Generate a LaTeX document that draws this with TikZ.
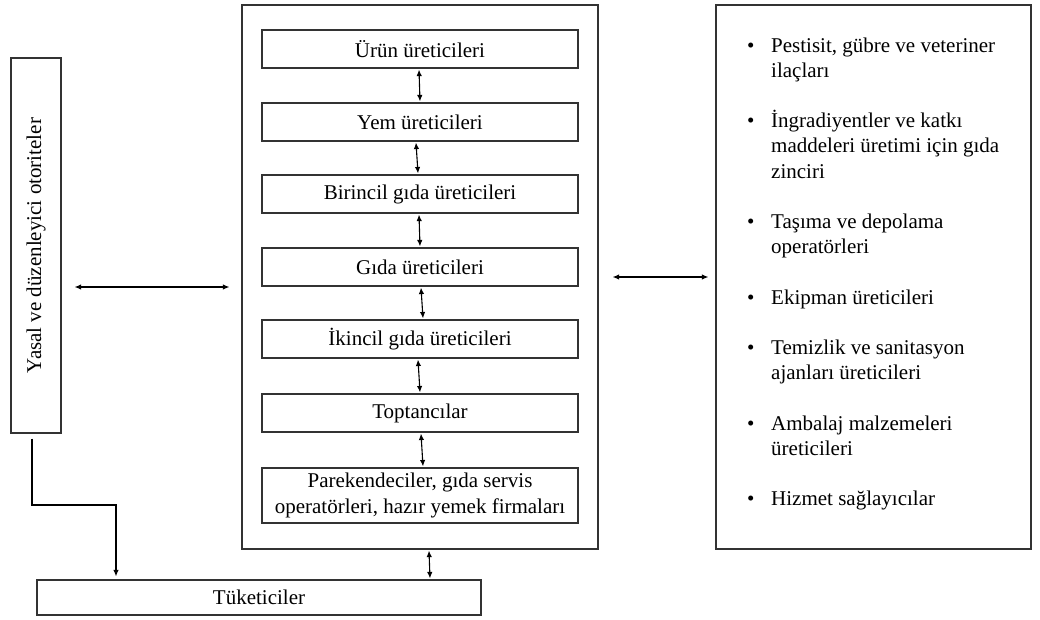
\documentclass[tikz,border=0pt]{standalone}
\usepackage{fontspec}
\setmainfont{Liberation Serif}
\usetikzlibrary{arrows.meta}

\begin{document}
\begin{tikzpicture}[x=1pt, y=-1pt,
    every node/.style={font=\fontsize{21}{25.2}\selectfont},
    kutu/.style={draw=black!80, line width=1.2pt, inner sep=0pt},
    ic/.style={kutu, minimum width=316pt, minimum height=38pt},
    ok/.style={{Latex[length=6.5pt,width=5.5pt]}-{Latex[length=6.5pt,width=5.5pt]}, line width=1.1pt},
    tek/.style={-{Latex[length=6.5pt,width=5.5pt]}, line width=1.1pt}]
  \useasboundingbox (0,0) rectangle (1040,619);

  % sol: yasal otoriteler (dikey yazi)
  \node[kutu, rotate=90, minimum width=375pt, minimum height=50pt] (sol) at (36,245.5)
    {Yasal ve düzenleyici otoriteler};

  % orta: gida zinciri
  \node[kutu, minimum width=356pt, minimum height=544pt] (zincir) at (420,277) {};
  \node[ic] (u1) at (420,49)  {Ürün üreticileri};
  \node[ic] (u2) at (420,122) {Yem üreticileri};
  \node[ic] (u3) at (420,194) {Birincil gıda üreticileri};
  \node[ic] (u4) at (420,267) {Gıda üreticileri};
  \node[ic] (u5) at (420,339) {İkincil gıda üreticileri};
  \node[ic] (u6) at (420,413) {Toptancılar};
  \node[ic, minimum height=55pt, align=center] (u7) at (420,495.5)
    {Parekendeciler, gıda servis\\operatörleri, hazır yemek firmaları};

  % zincir oklari
  \draw[ok] ([xshift=-1pt,yshift=-1pt]u1.south) -- ([xshift=0pt,yshift=1pt]u2.north);
  \draw[ok] ([xshift=-4pt,yshift=-1pt]u2.south) -- ([xshift=-2pt,yshift=1pt]u3.north);
  \draw[ok] ([xshift=-1pt,yshift=-1pt]u3.south) -- ([xshift=0pt,yshift=1pt]u4.north);
  \draw[ok] ([xshift=1pt,yshift=-1pt]u4.south) -- ([xshift=3pt,yshift=1pt]u5.north);
  \draw[ok] ([xshift=-2pt,yshift=-1pt]u5.south) -- ([xshift=0pt,yshift=1pt]u6.north);
  \draw[ok] ([xshift=1pt,yshift=-1pt]u6.south) -- ([xshift=3pt,yshift=1pt]u7.north);

  % sag: diger paydaslar
  \node[kutu, minimum width=315pt, minimum height=544pt] (tedarik) at (873.5,277) {};
  \node[anchor=base west, inner sep=0pt] (liste) at (747,52) {%
    \begin{tabular}[t]{@{}p{24pt}@{}l@{}}
      \textbullet & Pestisit, gübre ve veteriner\\
                  & ilaçları\\[25.2pt]
      \textbullet & İngradiyentler ve katkı\\
                  & maddeleri üretimi için gıda\\
                  & zinciri\\[25.2pt]
      \textbullet & Taşıma ve depolama\\
                  & operatörleri\\[25.2pt]
      \textbullet & Ekipman üreticileri\\[25.2pt]
      \textbullet & Temizlik ve sanitasyon\\
                  & ajanları üreticileri\\[25.2pt]
      \textbullet & Ambalaj malzemeleri\\
                  & üreticileri\\[25.2pt]
      \textbullet & Hizmet sağlayıcılar
    \end{tabular}};

  % alt: tuketiciler
  \node[kutu, minimum width=444pt, minimum height=35pt] (tuketici) at (259,597.5) {Tüketiciler};

  % baglanti oklari
  \coordinate (yatay) at (0,287);
  \draw[ok] ([xshift=13pt]sol.south |- yatay) -- ([xshift=-12pt]zincir.west |- yatay);
  \draw[ok] ([xshift=14pt]zincir.east) -- ([xshift=-7pt]tedarik.west);
  \draw[ok] ([xshift=9pt,yshift=-1pt]zincir.south) -- ([xshift=10pt,yshift=1pt]zincir.south |- tuketici.north);

  % sol kutudan tuketicilere
  \coordinate (kirilma) at (116,505);
  \draw[tek] ([xshift=-4pt,yshift=-5pt]sol.west) |- (kirilma)
    -- ([yshift=3pt]kirilma |- tuketici.north);
\end{tikzpicture}
\end{document}
